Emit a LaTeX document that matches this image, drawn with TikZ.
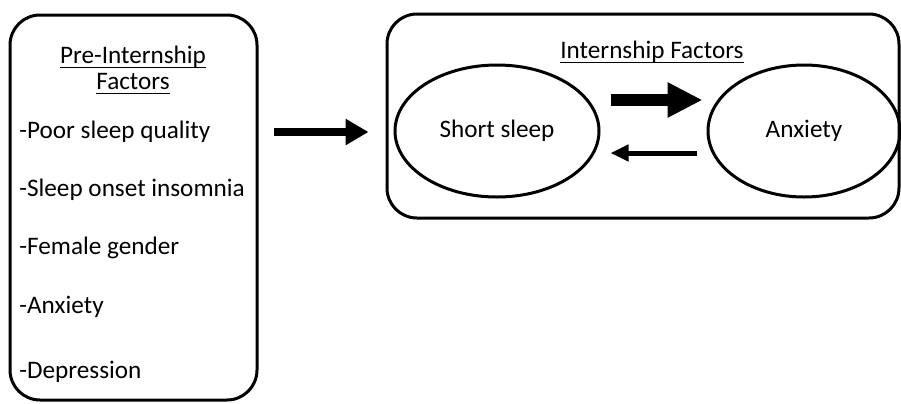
\documentclass[tikz,border=0pt]{standalone}
\usepackage{fontspec}
\setmainfont{Carlito}
\newcommand{\ulbar}[1]{\setbox0\hbox{#1}\rlap{\copy0}\rule[-2.6pt]{\wd0}{0.9pt}}
\usetikzlibrary{arrows.meta,shapes.geometric}
\tikzset{box/.style={draw, line width=1.5pt, rounded corners=15pt},
  txt/.style={font=\fontsize{12.6}{14}\selectfont},
  oval/.style={draw, ellipse, line width=1.5pt, minimum width=102pt, minimum height=66pt, txt},
  item/.style={anchor=west, txt, inner sep=0pt}}

\begin{document}
\begin{tikzpicture}[x=0.5pt, y=-0.5pt]
  \useasboundingbox (0,0) rectangle (901,403);
  % pre-internship column
  \node[box, minimum width=123.5pt, minimum height=192.5pt] (pre) at (133.5,207.5) {};
  \node[txt, align=center] (pretitle) at (133,70) {\ulbar{Pre-Internship}\\[-1pt]\ulbar{Factors}};
  \node[item] (i1) at (19,132) {-Poor sleep quality};
  \node[item] (i2) at (19,190) {-Sleep onset insomnia};
  \node[item] (i3) at (19,248) {-Female gender};
  \node[item] (i4) at (19,307) {-Anxiety};
  \node[item] (i5) at (19,372) {-Depression};
  % internship column
  \node[box, minimum width=256pt, minimum height=102pt] (intern) at (643,116) {};
  \node[txt] (inttitle) at (652,52) {\ulbar{Internship Factors}};
  \node[oval] (sleep) at (497,131) {Short sleep};
  \node[oval, minimum width=96pt] (anx) at (804,131) {Anxiety};
  \draw[line width=4pt, -{Triangle[length=11.5pt, width=12.5pt]}, shorten <=7.5pt, shorten >=8.5pt]
    (pre.east |- i1) -- (intern.west |- i1);
  \draw[line width=6pt, -{Triangle[length=17.5pt, width=16.5pt]}, shorten <=5pt, shorten >=2pt]
    ([yshift=15.5pt]sleep.east) -- ([yshift=15.5pt]anx.west);
  \draw[line width=2.5pt, -{Triangle[length=9pt, width=8pt]}, shorten <=5pt, shorten >=5pt]
    ([yshift=-11pt]anx.west) -- ([yshift=-11pt]sleep.east);
\end{tikzpicture}
\end{document}
